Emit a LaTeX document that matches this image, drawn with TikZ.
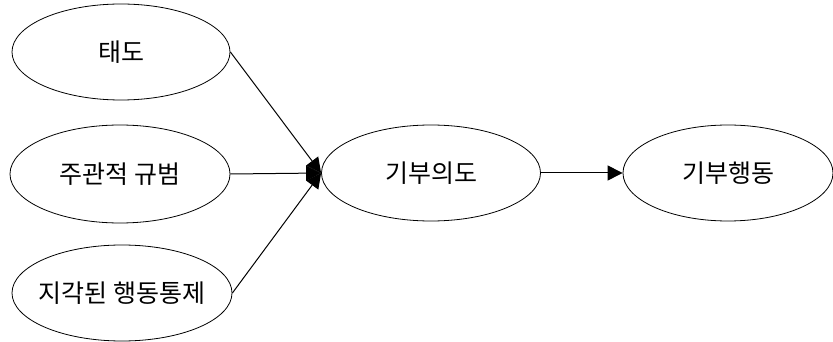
\documentclass[tikz,border=0pt]{standalone}
\usepackage{fontspec}
\setmainfont{Noto Sans CJK KR}
\usetikzlibrary{shapes.geometric,arrows.meta}
\tikzset{
  oval/.style={draw, ellipse, line width=0.8pt, inner sep=0pt, minimum width=218pt, minimum height=96pt, font=\fontsize{25}{30}\selectfont},
  conn/.style={line width=1pt, -{Triangle[length=15pt,width=15pt]}}
}
\begin{document}
\begin{tikzpicture}[x=1pt,y=-1pt]
\useasboundingbox (0,0) rectangle (833,342);
\node[oval] (att) at (121,52) {\makebox[0pt]{태도}};
\node[oval, minimum width=220pt, minimum height=98pt] (norm) at (120,174) {\makebox[0pt]{주관적 규범}};
\node[oval, minimum width=220pt] (pbc) at (122,293) {\makebox[0pt]{지각된 행동통제}};
\node[oval, minimum width=219pt] (int) at (431,173) {\makebox[0pt]{기부의도}};
\node[oval, minimum width=210pt] (beh) at (728,173) {\makebox[0pt]{기부행동}};
\draw[conn] (att.east) -- (int.west);
\draw[conn] (norm.east) -- (int.west);
\draw[conn] (pbc.east) -- (int.west);
\draw[conn] (int.east) -- (beh.west);
\end{tikzpicture}
\end{document}
